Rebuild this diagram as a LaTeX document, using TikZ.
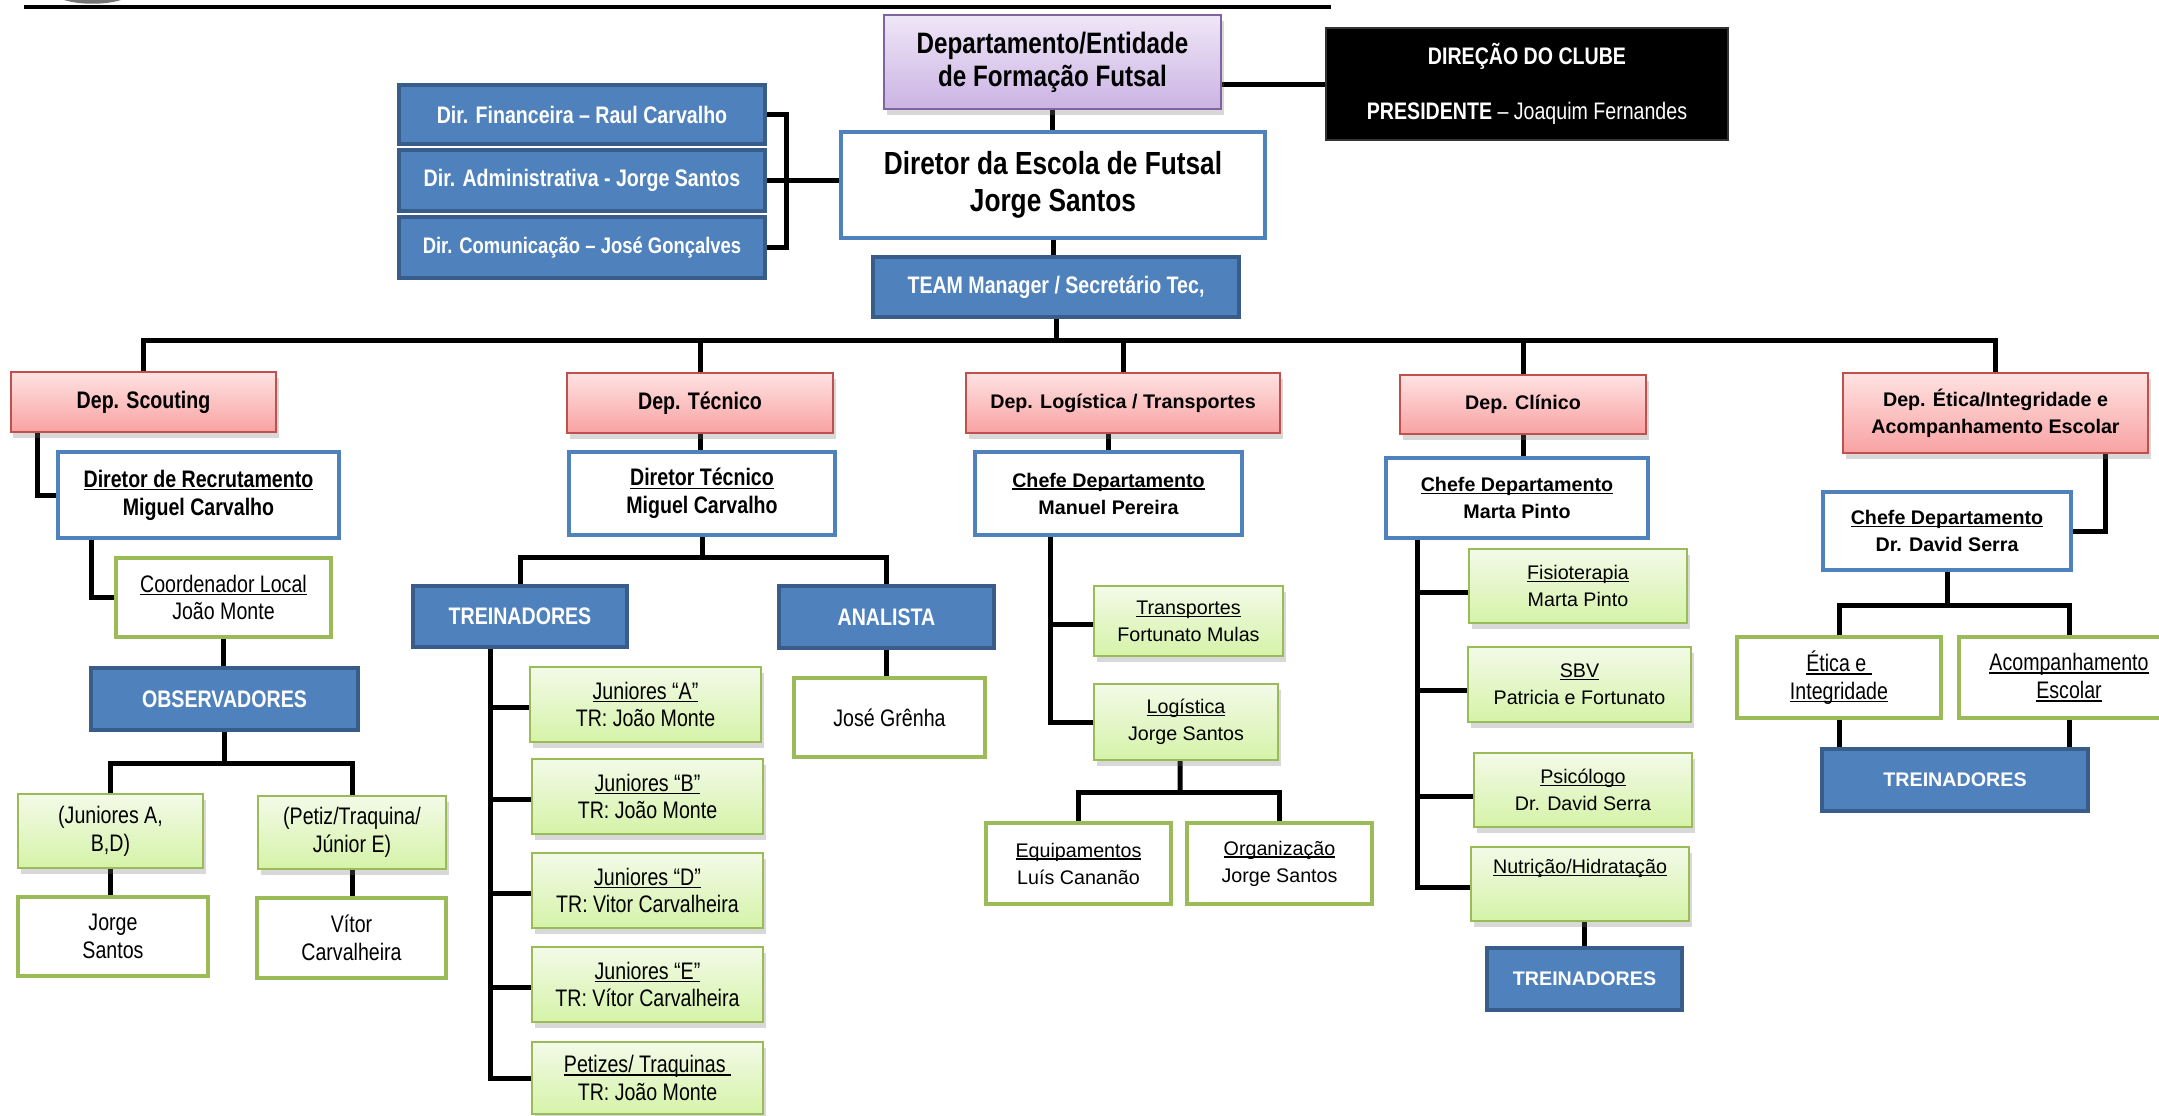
\documentclass[tikz,border=0pt]{standalone}
\usepackage{fontspec}
\setmainfont{Liberation Sans}
\newfontfamily\nar[FakeStretch=0.82]{Liberation Sans}
\usetikzlibrary{shadows}
\definecolor{cB}{HTML}{4F81BD}
\definecolor{cBd}{HTML}{385D8A}
\definecolor{cG}{HTML}{9BBB59}
\definecolor{cR}{HTML}{C0504D}
\definecolor{cP}{HTML}{8064A2}
\definecolor{rTop}{HTML}{FFE2E2}
\definecolor{rBot}{HTML}{F8A2A2}
\definecolor{gTop}{HTML}{F3FAE8}
\definecolor{gBot}{HTML}{D5F3A8}
\definecolor{pTop}{HTML}{EFE7F7}
\definecolor{pBot}{HTML}{CBB3E3}
\pgfdeclarelayer{bg}
\pgfsetlayers{bg,main}
\newcommand\myul[1]{\leavevmode\setbox0=\hbox{#1}\rlap{\rule[-0.13em]{\wd0}{0.06em}}\box0}
\newcommand\bx[7]{\node[#1,minimum width={(#5-#3)*0.1mm},minimum height={(#6-#4)*0.1mm}] (#2) at (#3,#4) {#7};}
\tikzset{
 base/.style={anchor=north west, inner sep=0pt, outer sep=0pt, align=center},
 fnb/.style={font=\nar\bfseries\fontsize{6.8}{7.9}\selectfont},
 fnr/.style={font=\nar\fontsize{6.8}{7.9}\selectfont},
 fwb/.style={font=\bfseries\fontsize{5.6}{7.7}\selectfont},
 fwr/.style={font=\fontsize{5.6}{7.7}\selectfont},
 shd/.style={drop shadow={shadow xshift=0.25mm, shadow yshift=-0.6mm, opacity=0.28, fill=black!55}},
 bluebox/.style={base, fill=cB, draw=cBd, line width=0.4mm, text=white},
 wblue/.style={base, fill=white, draw=cB, line width=0.45mm},
 wgreen/.style={base, fill=white, draw=cG, line width=0.45mm},
 grnbox/.style={base, shd, top color=gTop, bottom color=gBot, draw=cG, line width=0.15mm},
 redbox/.style={base, shd, top color=rTop, bottom color=rBot, draw=cR, line width=0.15mm},
 purpbox/.style={base, shd, top color=pTop, bottom color=pBot, draw=cP, line width=0.2mm},
 blkbox/.style={base, fill=black, draw=black!80, text=white},
 conn/.style={draw=black, line width=0.5mm, line join=miter},
}
\begin{document}
\begin{tikzpicture}[x=0.1mm,y=-0.1mm]
\useasboundingbox (0,0) rectangle (2159,1116);
% top rule and partial logo
\draw[line width=0.4mm] (24,7) -- (1331,7);
\fill[black!55] (64,0) .. controls (80,5) and (105,5) .. (121,0) -- cycle;

% top
\bx{purpbox,font=\nar\bfseries\fontsize{8.4}{9.4}\selectfont}{purple}{884}{15}{1221}{109}{Departamento/Entidade\\de Formação Futsal}
\bx{blkbox,font=\nar\fontsize{6.8}{15.6}\selectfont}{black}{1326}{28}{1728}{140}{\textbf{DIREÇÃO DO CLUBE}\\\textbf{PRESIDENTE} – Joaquim Fernandes}
\bx{wblue,font=\nar\bfseries\fontsize{9.1}{10.5}\selectfont}{dir}{841}{132}{1265}{238}{Diretor da Escola de Futsal\\Jorge Santos}
\bx{bluebox,fnb}{fin}{399}{85}{765}{144}{Dir. Financeira – Raul Carvalho}
\bx{bluebox,fnb}{adm}{399}{150}{765}{211}{Dir. Administrativa - Jorge Santos}
\bx{bluebox,font=\nar\bfseries\fontsize{6.4}{7.6}\selectfont}{com}{399}{217}{765}{278}{Dir. Comunicação – José Gonçalves}
\bx{bluebox,fnb}{team}{873}{257}{1239}{317}{TEAM Manager / Secretário Tec,}

% scouting
\bx{redbox,fnb}{depsc}{11}{372}{276}{432}{Dep. Scouting}
\bx{wblue,fnb}{dirrec}{58}{452}{339}{538}{\myul{Diretor de Recrutamento}\\Miguel Carvalho}
\bx{wgreen,fnr}{coord}{116}{558}{331}{637}{\myul{Coordenador Local}\\João Monte}
\bx{bluebox,fnb}{obs}{91}{668}{358}{730}{OBSERVADORES}
\bx{grnbox,fnr}{jrabd}{18}{794}{203}{868}{(Juniores A,\\B,D)}
\bx{grnbox,fnr}{petiz}{258}{796}{446}{869}{(Petiz/Traquina/\\Júnior E)}
\bx{wgreen,fnr}{jorge}{18}{897}{208}{976}{Jorge\\Santos}
\bx{wgreen,fnr}{vitor}{257}{898}{446}{978}{Vítor\\Carvalheira}

% tecnico
\bx{redbox,fnb}{dept}{567}{373}{833}{433}{Dep. Técnico}
\bx{wblue,fnb}{dirtec}{569}{452}{835}{535}{\myul{Diretor Técnico}\\Miguel Carvalho}
\bx{bluebox,fnb}{trein1}{413}{586}{627}{647}{TREINADORES}
\bx{bluebox,fnb}{anal}{779}{586}{994}{648}{ANALISTA}
\bx{wgreen,fnr}{jose}{794}{678}{985}{757}{José Grênha}
\bx{grnbox,fnr}{jA}{530}{667}{761}{742}{\myul{Juniores “A”}\\TR: João Monte}
\bx{grnbox,fnr}{jB}{532}{759}{763}{834}{\myul{Juniores “B”}\\TR: João Monte}
\bx{grnbox,fnr}{jD}{532}{853}{763}{928}{\myul{Juniores “D”}\\TR: Vitor Carvalheira}
\bx{grnbox,fnr}{jE}{532}{947}{763}{1022}{\myul{Juniores “E”}\\TR: Vítor Carvalheira}
\bx{grnbox,fnr}{jP}{532}{1042}{763}{1114}{\myul{Petizes/ Traquinas\ }\\TR: João Monte}

% logistica
\bx{redbox,fwb}{deplog}{966}{373}{1280}{433}{Dep. Logística / Transportes}
\bx{wblue,fwb}{chefeMP}{975}{452}{1242}{535}{\myul{Chefe Departamento}\\Manuel Pereira}
\bx{grnbox,fwr}{transp}{1094}{586}{1283}{656}{\myul{Transportes}\\Fortunato Mulas}
\bx{grnbox,fwr}{logi}{1094}{684}{1278}{760}{\myul{Logística}\\Jorge Santos}
\bx{wgreen,fwr}{equip}{986}{823}{1171}{904}{\myul{Equipamentos}\\Luís Cananão}
\bx{wgreen,fwr}{org}{1187}{823}{1372}{904}{\myul{Organização}\\Jorge Santos}

% clinico
\bx{redbox,fwb}{depcli}{1400}{375}{1646}{434}{Dep. Clínico}
\bx{wblue,fwb}{chefeMT}{1386}{458}{1648}{538}{\myul{Chefe Departamento}\\Marta Pinto}
\bx{grnbox,fwr}{fisio}{1469}{549}{1687}{623}{\myul{Fisioterapia}\\Marta Pinto}
\bx{grnbox,fwr}{sbv}{1468}{647}{1691}{722}{\myul{SBV}\\Patricia e Fortunato}
\bx{grnbox,fwr}{psic}{1474}{753}{1692}{827}{\myul{Psicólogo}\\Dr. David Serra}
\bx{grnbox,fwr}{nutri}{1471}{847}{1689}{921}{\myul{Nutrição/Hidratação}\\\strut}
\bx{bluebox,fwb}{trein3}{1487}{948}{1682}{1010}{TREINADORES}

% etica
\bx{redbox,fwb}{deeti}{1843}{373}{2148}{453}{Dep. Ética/Integridade e\\Acompanhamento Escolar}
\bx{wblue,fwb}{chefeDS}{1823}{492}{2071}{570}{\myul{Chefe Departamento}\\Dr. David Serra}
\bx{wgreen,fnr}{etica}{1737}{637}{1941}{718}{\myul{Ética e\ }\\\myul{Integridade}}
\bx{wgreen,fnr}{acomp}{1959}{637}{2179}{718}{\myul{Acompanhamento}\\\myul{Escolar}}
\bx{bluebox,fwb}{trein4}{1822}{749}{2088}{811}{TREINADORES}

\begin{pgfonlayer}{bg}
\coordinate (busY) at (0,340);
\draw[conn] (purple.south) -- (purple.south |- dir.north);
\draw[conn] (black.west) -- (black.west -| purple.east);
\draw[conn] (fin.east) -- ++(21,0) |- (com.east);
\draw[conn] (adm.east) -- (adm.east -| dir.west);
\draw[conn] (dir.south) -- (dir.south |- team.north);
\draw[conn] (team.south) -- (team.south |- busY);
\draw[conn] (depsc.north) -- (depsc.north |- busY) -- (deeti.north |- busY) -- (deeti.north);
\foreach \n in {dept,deplog,depcli} \draw[conn] (\n.north) -- (\n.north |- busY);
% scouting
\draw[conn] ([xshift=2.7mm]depsc.south west) |- (dirrec.west);
\draw[conn] ([xshift=3.3mm]dirrec.south west) |- (coord.west);
\draw[conn] (coord.south) -- (coord.south |- obs.north);
\path (obs.south) ++(0,33) coordinate (sc1);
\draw[conn] (obs.south) -- (sc1);
\draw[conn] (jrabd.north) |- (sc1) -| (petiz.north);
\draw[conn] (jrabd.south) -- (jrabd.south |- jorge.north);
\draw[conn] (petiz.south) -- (petiz.south |- vitor.north);
% tecnico
\draw[conn] (dept.south) -- (dept.south |- dirtec.north);
\path (dirtec.south) ++(0,22) coordinate (tc1);
\draw[conn] (dirtec.south) -- (tc1);
\draw[conn] (trein1.north) |- (tc1) -| (anal.north);
\draw[conn] (anal.south) -- (anal.south |- jose.north);
\coordinate (tv) at ([xshift=7.7mm]trein1.south west);
\draw[conn] (tv) |- (jP.west);
\foreach \n in {jA,jB,jD,jE} \draw[conn] ([yshift=-0.3mm]\n.west) -| (tv);
% logistica
\draw[conn] (chefeMP.north) -- (chefeMP.north |- deplog.south);
\coordinate (lv) at ([xshift=7.5mm]chefeMP.south west);
\draw[conn] (lv) |- (logi.west);
\draw[conn] ([yshift=-0.3mm]transp.west) -| (lv);
\path (logi.south) ++(-6,32) coordinate (lc1);
\draw[conn] ([xshift=-0.6mm]logi.south) -- (lc1);
\draw[conn] (equip.north) |- (lc1) -| (org.north);
% clinico
\draw[conn] (depcli.south) -- (depcli.south |- chefeMT.north);
\coordinate (cv) at ([xshift=3.1mm]chefeMT.south west);
\draw[conn] (cv) |- ([yshift=-0.3mm]nutri.west);
\foreach \n in {fisio,sbv,psic} \draw[conn] ([yshift=-0.6mm]\n.west) -| (cv);
\draw[conn] (trein3.north) -- (trein3.north |- nutri.south);
% etica
\draw[conn] ([xshift=-4.3mm]deeti.south east) |- (chefeDS.east);
\path (chefeDS.south) ++(0,35) coordinate (ec1);
\draw[conn] (chefeDS.south) -- (ec1);
\draw[conn] (etica.north) |- (ec1) -| (acomp.north);
\draw[conn] (etica.south) -- (etica.south |- trein4.north);
\draw[conn] (acomp.south) -- (acomp.south |- trein4.north);
\end{pgfonlayer}
\end{tikzpicture}
\end{document}
